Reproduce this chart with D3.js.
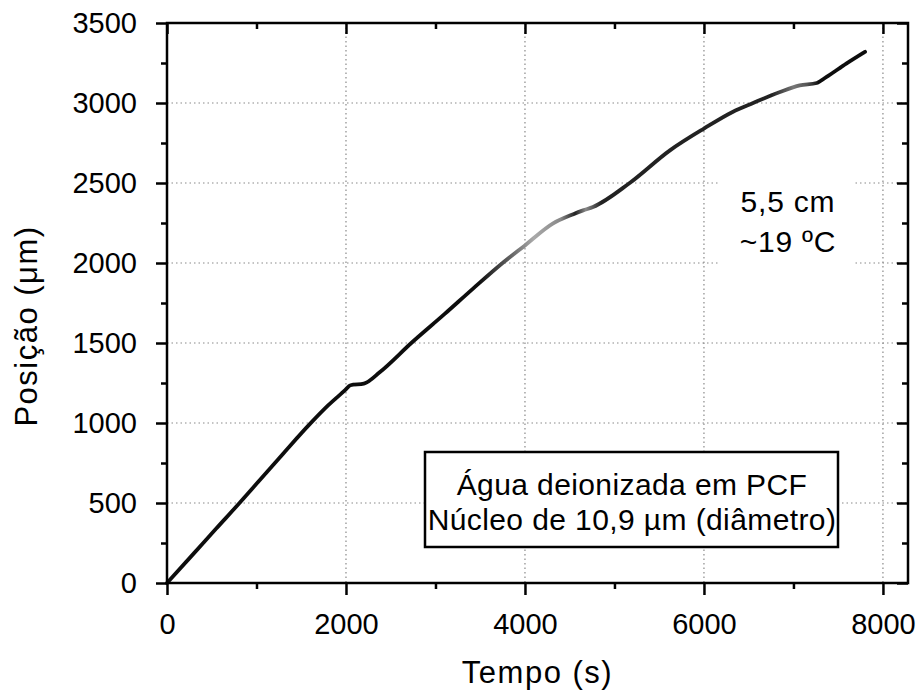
<!DOCTYPE html>
<html>
<head>
<meta charset="utf-8">
<script src="https://cdn.jsdelivr.net/npm/d3@7"></script>
<style>
  body { margin: 0; background: #fff; }
  text { font-family: "Liberation Sans", Arial, sans-serif; fill: #000; }
</style>
</head>
<body>
<div id="chart"></div>
<script>
// ----------------------------------------------------------
// Data
// ----------------------------------------------------------
const timeS = [0, 300, 550, 810, 1000, 1300, 1600, 1800, 1990, 2050, 2200, 2380, 2730,
  3100, 3420, 3750, 4000, 4310, 4540, 4650, 4760, 5170, 5620, 6000, 6320, 6550,
  6850, 7070, 7260, 7370, 7590, 7800];
const positionUm = [0, 185, 340, 500, 620, 810, 996, 1110, 1205, 1236, 1246, 1319, 1500,
  1680, 1840, 2000, 2110, 2246, 2305, 2329, 2350, 2500, 2704, 2840, 2944, 3000,
  3069, 3110, 3125, 3163, 3246, 3320];

const xMajorTicks = [0, 2000, 4000, 6000, 8000];
const xMinorTicks = [1000, 3000, 5000, 7000];
const yMajorTicks = [0, 500, 1000, 1500, 2000, 2500, 3000, 3500];
const yMinorTicks = [250, 750, 1250, 1750, 2250, 2750, 3250];

const xTitle = "Tempo (s)";
const yTitle = "Posição (μm)";
const noteLines = ["5,5 cm", "~19 ºC"];
const boxLines = ["Água deionizada em PCF", "Núcleo de 10,9 µm (diâmetro)"];

// grey level of the trace along time (the scan is lighter in places)
const shadeStops = [[0, "#111"], [3500, "#111"], [3850, "#666"], [4100, "#aaa"],
  [4400, "#888"], [4560, "#222"], [4680, "#888"], [4850, "#222"], [6750, "#222"],
  [7000, "#777"], [7150, "#555"], [7280, "#111"], [8280, "#111"]];

// ----------------------------------------------------------
// Layout
// ----------------------------------------------------------
const width = 919, height = 700;
const plotLeft = 167, plotRight = 908, plotTop = 23, plotBottom = 583;

const svg = d3.select("#chart").append("svg")
  .attr("width", width)
  .attr("height", height);

const x = d3.scaleLinear().domain([0, 8280]).range([plotLeft, plotRight]);
const y = d3.scaleLinear().domain([0, 3500]).range([plotBottom, plotTop]);

// ----------------------------------------------------------
// Dotted grid
// ----------------------------------------------------------
const grid = svg.append("g")
  .attr("stroke", "#8a8a8a")
  .attr("stroke-width", 1.2)
  .attr("stroke-dasharray", "1.5 3");

grid.selectAll(".vgrid")
  .data(xMajorTicks.filter(d => d > 0))
  .enter().append("line")
  .attr("x1", d => x(d)).attr("x2", d => x(d))
  .attr("y1", plotTop).attr("y2", plotBottom);

grid.selectAll(".hgrid")
  .data(yMajorTicks.filter(d => d > 0 && d < 3500))
  .enter().append("line")
  .attr("x1", plotLeft).attr("x2", plotRight)
  .attr("y1", d => y(d)).attr("y2", d => y(d));

// ----------------------------------------------------------
// Trace
// ----------------------------------------------------------
const data = timeS.map((t, i) => ({ t, p: positionUm[i] }));
const defs = svg.append("defs");

const grad = defs.append("linearGradient")
  .attr("id", "shade")
  .attr("gradientUnits", "userSpaceOnUse")
  .attr("x1", x(0)).attr("x2", x(8280))
  .attr("y1", 0).attr("y2", 0);
grad.selectAll("stop")
  .data(shadeStops)
  .enter().append("stop")
  .attr("offset", d => (x(d[0]) - x(0)) / (x(8280) - x(0)))
  .attr("stop-color", d => d[1]);

defs.append("filter")
  .attr("id", "soft")
  .attr("x", "-5%").attr("y", "-5%").attr("width", "110%").attr("height", "110%")
  .append("feGaussianBlur")
  .attr("stdDeviation", 0.7);

const line = d3.line()
  .x(d => x(d.t))
  .y(d => y(d.p))
  .curve(d3.curveMonotoneX);

svg.append("path")
  .datum(data)
  .attr("fill", "none")
  .attr("stroke", "url(#shade)")
  .attr("stroke-width", 3.8)
  .attr("stroke-linecap", "round")
  .attr("stroke-linejoin", "round")
  .attr("filter", "url(#soft)")
  .attr("d", line);

// ----------------------------------------------------------
// Annotations
// ----------------------------------------------------------
svg.append("rect")
  .attr("x", 720).attr("y", 168)
  .attr("width", 135).attr("height", 98)
  .attr("fill", "#fff");

svg.append("g").selectAll("text")
  .data(noteLines)
  .enter().append("text")
  .attr("x", 788)
  .attr("y", (d, i) => 212 + i * 40)
  .attr("text-anchor", "middle")
  .attr("font-size", 30)
  .attr("letter-spacing", 0.8)
  .text(d => d);

svg.append("rect")
  .attr("x", 425).attr("y", 452)
  .attr("width", 413).attr("height", 95)
  .attr("fill", "#fff")
  .attr("stroke", "#000")
  .attr("stroke-width", 2.5);

svg.append("g").selectAll("text")
  .data(boxLines)
  .enter().append("text")
  .attr("x", 632)
  .attr("y", (d, i) => 495 + i * 35)
  .attr("text-anchor", "middle")
  .attr("font-size", 30)
  .attr("letter-spacing", 0.4)
  .text(d => d);

// ----------------------------------------------------------
// Frame + ticks
// ----------------------------------------------------------
svg.append("rect")
  .attr("x", plotLeft).attr("y", plotTop)
  .attr("width", plotRight - plotLeft).attr("height", plotBottom - plotTop)
  .attr("fill", "none")
  .attr("stroke", "#000")
  .attr("stroke-width", 2.5);

function styleAxis(g) {
  g.select(".domain").remove();
  g.selectAll(".tick line").attr("stroke", "#000").attr("stroke-width", 2.5);
  g.selectAll(".tick text")
    .attr("fill", "#000")
    .attr("font-size", 29)
    .attr("font-family", '"Liberation Sans", Arial, sans-serif');
}

const plain = d3.format("d");

// bottom
svg.append("g").attr("transform", `translate(0,${plotBottom})`)
  .call(d3.axisBottom(x).tickValues(xMajorTicks).tickSize(12).tickSizeOuter(0)
    .tickPadding(18).tickFormat(plain))
  .call(styleAxis);
svg.append("g").attr("transform", `translate(0,${plotBottom})`)
  .call(d3.axisBottom(x).tickValues(xMinorTicks).tickSize(6).tickSizeOuter(0).tickFormat(""))
  .call(styleAxis);

// top (inward)
svg.append("g").attr("transform", `translate(0,${plotTop})`)
  .call(d3.axisTop(x).tickValues(xMajorTicks).tickSize(-11).tickSizeOuter(0).tickFormat(""))
  .call(styleAxis);
svg.append("g").attr("transform", `translate(0,${plotTop})`)
  .call(d3.axisTop(x).tickValues(xMinorTicks).tickSize(-6).tickSizeOuter(0).tickFormat(""))
  .call(styleAxis);

// left
svg.append("g").attr("transform", `translate(${plotLeft},0)`)
  .call(d3.axisLeft(y).tickValues(yMajorTicks).tickSize(11).tickSizeOuter(0)
    .tickPadding(19).tickFormat(plain))
  .call(styleAxis);
svg.append("g").attr("transform", `translate(${plotLeft},0)`)
  .call(d3.axisLeft(y).tickValues(yMinorTicks).tickSize(6).tickSizeOuter(0).tickFormat(""))
  .call(styleAxis);

// right (inward)
svg.append("g").attr("transform", `translate(${plotRight},0)`)
  .call(d3.axisRight(y).tickValues(yMajorTicks).tickSize(-11).tickSizeOuter(0).tickFormat(""))
  .call(styleAxis);
svg.append("g").attr("transform", `translate(${plotRight},0)`)
  .call(d3.axisRight(y).tickValues(yMinorTicks).tickSize(-6).tickSizeOuter(0).tickFormat(""))
  .call(styleAxis);

// ----------------------------------------------------------
// Axis titles
// ----------------------------------------------------------
svg.append("text")
  .attr("x", (plotLeft + plotRight) / 2)
  .attr("y", 683)
  .attr("text-anchor", "middle")
  .attr("font-size", 31)
  .attr("letter-spacing", 1.5)
  .text(xTitle);

svg.append("text")
  .attr("transform", "translate(37,326) rotate(-90)")
  .attr("text-anchor", "middle")
  .attr("font-size", 31)
  .attr("letter-spacing", 1.5)
  .text(yTitle);
</script>
</body>
</html>
